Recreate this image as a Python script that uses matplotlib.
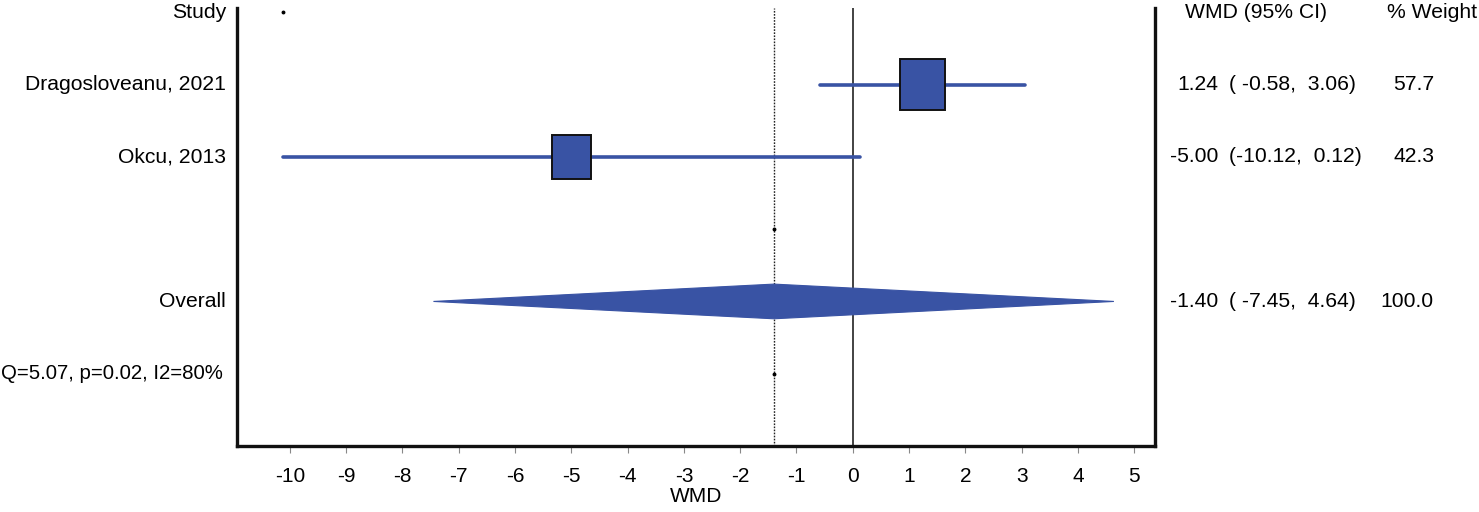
import matplotlib
matplotlib.use("Agg")
import matplotlib.pyplot as plt
from matplotlib.patches import Rectangle, Polygon
import matplotlib.transforms as mtransforms

plt.rcParams['font.family'] = ['Liberation Sans', 'DejaVu Sans']

# ---- data ----
studies = ["Dragosloveanu, 2021", "Okcu, 2013"]
estimates = [1.24, -5.00]
ci_low = [-0.58, -10.12]
ci_high = [3.06, 0.12]
weights = [57.7, 42.3]
overall_est = -1.40
overall_low = -7.45
overall_high = 4.64
overall_weight = 100.0
heterogeneity = "Q=5.07, p=0.02, I2=80%"
xticks = [-10, -9, -8, -7, -6, -5, -4, -3, -2, -1, 0, 1, 2, 3, 4, 5]

blue = "#3953a4"

fig = plt.figure(figsize=(14.79, 5.12), dpi=100)
ax = fig.add_axes([237/1479, 1-446/512, (1155-237)/1479, (446-8)/512])
ax.set_xlim(-10.94, 5.37)
ax.set_ylim(6.0, -0.06)

# reference lines
ax.axvline(0, color="#222222", lw=1.2, zorder=1)
ax.axvline(overall_est, color="#222222", lw=1.0, ls=(0, (1.2, 1.0)), zorder=1)

rows = [1, 2]
for r, est, lo, hi, w in zip(rows, estimates, ci_low, ci_high, weights):
    ax.plot([lo, hi], [r, r], color=blue, lw=2.6, solid_capstyle="round", zorder=2)
    s = w ** 0.5
    wx = 0.105 * s
    hy = 0.094 * s
    ax.add_patch(Rectangle((est - wx/2, r - hy/2), wx, hy, facecolor=blue,
                           edgecolor="#111111", lw=1.4, zorder=3))

# overall diamond
r_ov = 4
hh = 0.24
ax.add_patch(Polygon([[overall_low, r_ov], [overall_est, r_ov - hh],
                      [overall_high, r_ov], [overall_est, r_ov + hh]],
                     closed=True, facecolor=blue, edgecolor=blue, lw=0.8, zorder=3))

# small dots (as in reference)
ax.plot([min(ci_low), overall_est, overall_est], [0, 3, 5], 'o', color="black",
        ms=1.8, zorder=4)

ax.spines["top"].set_visible(False)
for sp in ["left", "bottom", "right"]:
    ax.spines[sp].set_linewidth(2.4)
    ax.spines[sp].set_color("#111111")

ax.set_yticks([])
ax.set_xticks(xticks)
ax.set_xticklabels([str(t) for t in xticks])
ax.tick_params(axis="x", direction="out", length=5, width=0.8, color="#888888",
               pad=10, labelsize=15)
ax.set_xlabel("WMD", fontsize=15, labelpad=1)

fs = 15.2

def px_x(xpix):
    return xpix / 1479

blend = mtransforms.blended_transform_factory(fig.transFigure, ax.transData)
left_labels = ["Study"] + studies + ["", "Overall"]
for i, lab in enumerate(left_labels):
    if lab:
        ax.text(px_x(226), i, lab, transform=blend, ha="right", va="center",
                fontsize=fs, clip_on=False)
ax.text(px_x(1), 5, heterogeneity, transform=blend, ha="left", va="center",
        fontsize=14.7, clip_on=False)

# right columns
ax.text(px_x(1185), 0, "WMD (95% CI)", transform=blend, ha="left", va="center", fontsize=fs)
ax.text(px_x(1387), 0, "% Weight", transform=blend, ha="left", va="center", fontsize=fs)

all_est = estimates + [overall_est]
all_lo = ci_low + [overall_low]
all_hi = ci_high + [overall_high]
all_w = weights + [overall_weight]
for r, est, lo, hi, w in zip([1, 2, 4], all_est, all_lo, all_hi, all_w):
    ax.text(px_x(1218), r, f"{est:.2f}", transform=blend, ha="right", va="center", fontsize=fs)
    lo_s = f"{lo:.2f}"
    ci = f"({' ' if len(lo_s) < 6 else ''}{lo_s},  {hi:.2f})"
    ax.text(px_x(1229), r, ci, transform=blend, ha="left", va="center", fontsize=fs)
    ax.text(px_x(1434), r, f"{w:.1f}", transform=blend, ha="right", va="center", fontsize=fs)

fig.savefig("out.png", dpi=100, facecolor="white")
